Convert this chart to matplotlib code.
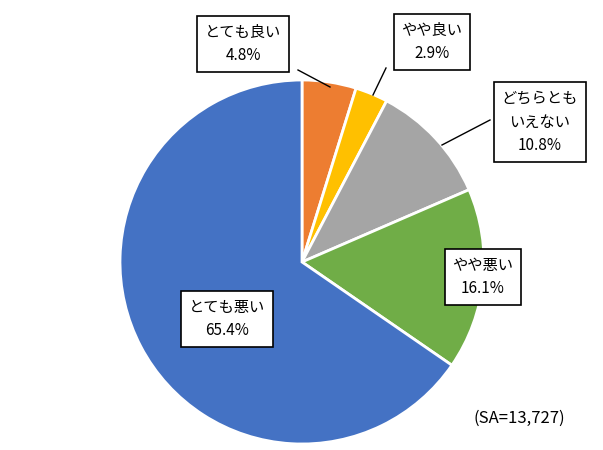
import matplotlib
matplotlib.use("Agg")
import matplotlib.pyplot as plt

plt.rcParams['font.family'] = ['Noto Sans CJK JP', 'DejaVu Sans']

labels = ['とても良い', 'やや良い', 'どちらとも\nいえない', 'やや悪い', 'とても悪い']
values = [4.8, 2.9, 10.8, 16.1, 65.4]
colors = ['#ED7D31', '#FFC000', '#A5A5A5', '#70AD47', '#4472C4']
label_pos = [(243, 44), (432, 42), (540, 122), (483, 277), (227, 319)]
leaders = [((298, 70), (330, 87)), ((386, 68), (373, 95)), ((490, 120), (442, 145)), None, None]

fig = plt.figure(figsize=(6.03, 4.5), dpi=100)
ax = fig.add_axes([0, 0, 1, 1])
ax.set_xlim(0, 603)
ax.set_ylim(450, 0)
ax.set_aspect('equal')
ax.axis('off')

# inverted y axis: counterclock in data = clockwise on screen
ax.pie(values, colors=colors, center=(302, 262), radius=182, startangle=270,
       counterclock=True, wedgeprops=dict(edgecolor='white', linewidth=2))
ax.set_xlim(0, 603)
ax.set_ylim(450, 0)

for lab, v, (x, y), ld in zip(labels, values, label_pos, leaders):
    if ld:
        ax.plot([ld[0][0], ld[1][0]], [ld[0][1], ld[1][1]], color='black', lw=1)
    ax.text(x, y, f'{lab}\n{v}%', ha='center', va='center', fontsize=11,
            linespacing=1.5,
            bbox=dict(boxstyle='square,pad=0.5', fc='white', ec='black', lw=1.2))

ax.text(519, 418, '(SA=13,727)', ha='center', va='center', fontsize=12)

fig.savefig('out.png', dpi=100)
